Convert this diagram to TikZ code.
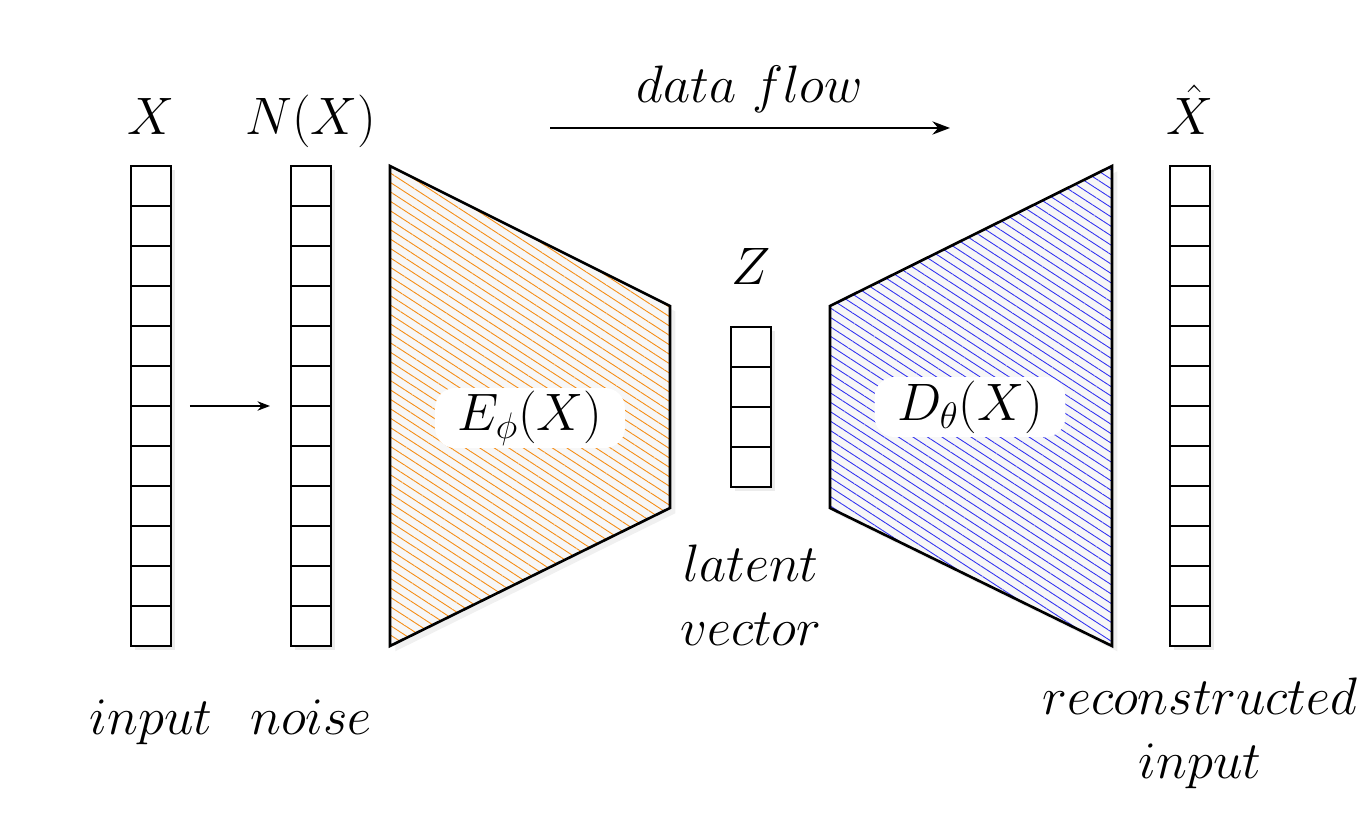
\RequirePackage{fix-cm}
\documentclass[tikz,border=0pt]{standalone}
\usetikzlibrary{arrows.meta, positioning, patterns.meta, shadows}

\definecolor{encorange}{RGB}{245,140,20}
\definecolor{decblue}{RGB}{50,50,240}

\begin{document}
\begin{tikzpicture}[
    x=0.02cm, y=-0.02cm,
    cell/.style={draw, line width=1.6pt, fill=white, minimum width=0.8cm, minimum height=0.8cm, inner sep=0pt, outer sep=0pt, drop shadow={opacity=0.15, shadow xshift=2pt, shadow yshift=-2pt}},
    lbl/.style={inner sep=0pt, font=\fontsize{30}{36}\selectfont},
    toplbl/.style={lbl, text depth=0pt},
    netbox/.style={lbl, fill=white, rounded corners=0.4cm, inner xsep=0.45cm, minimum height=1.2cm},
    encoder/.style={drop shadow={opacity=0.12, shadow xshift=3pt, shadow yshift=-3pt}, draw, line width=1.5pt, preaction={fill=gray!6}, pattern={Lines[angle=-33, distance=4.5pt, line width=0.5pt]}, pattern color=encorange},
    decoder/.style={encoder, pattern color=decblue},
    arrow/.style={-{Stealth[length=2.5mm]}, line width=1.1pt},
    flowarrow/.style={-{Stealth[length=3.5mm]}, line width=1.5pt},
]
\useasboundingbox (0,0) rectangle (1370,834);

% Encoder and decoder
\draw[encoder] (390,166) -- (670,306) -- (670,508) -- (390,646) -- cycle;
\draw[decoder] (830,306) -- (1112,166) -- (1112,646) -- (830,508) -- cycle;
\node[netbox] (enc) at (530,418) {$E_\phi(X)$};
\node[netbox] (dec) at (970,407) {$D_\theta(X)$};

% Vectors
\foreach \i in {1,...,12} {
    \node[cell] (in\i) at (151,146+40*\i) {};
    \node[cell] (nz\i) at (311,146+40*\i) {};
    \node[cell] (out\i) at (1190,146+40*\i) {};
}
\foreach \i in {1,...,4}
    \node[cell] (z\i) at (751,307+40*\i) {};

% Labels above
\node[toplbl, above=0.62cm of in1] (xlbl) {$X$};
\node[toplbl, above=0.62cm of nz1] (nxlbl) {$N(X)$};
\node[toplbl, above=0.84cm of z1] (zlbl) {$Z$};
\node[toplbl, above=0.62cm of out1] (xhatlbl) {$\hat{X}$};

% Labels below
\node[lbl, below=1.08cm of in12] (inputlbl) {$input$};
\node[lbl, below=1.08cm of nz12] (noiselbl) {$noise$};
\node[lbl, align=center, below=1.16cm of z4] (latentlbl) {$latent$\\$vector$};
\node[lbl, align=center, below=0.64cm of out12, xshift=0.2cm] (reclbl) {$reconstructed$\\$input$};

% Arrows
\draw[arrow, shorten <=0.38cm, shorten >=0.42cm] (in6.south east) -- (nz6.south west);
\coordinate (flowstart) at (550,128);
\coordinate (flowmid) at (750,128);
\coordinate (flowend) at (950,128);
\draw[flowarrow] (flowstart) -- (flowend);
\node[toplbl, above=0.5cm of flowmid] (flowlbl) {$data\ flow$};
\end{tikzpicture}
\end{document}
